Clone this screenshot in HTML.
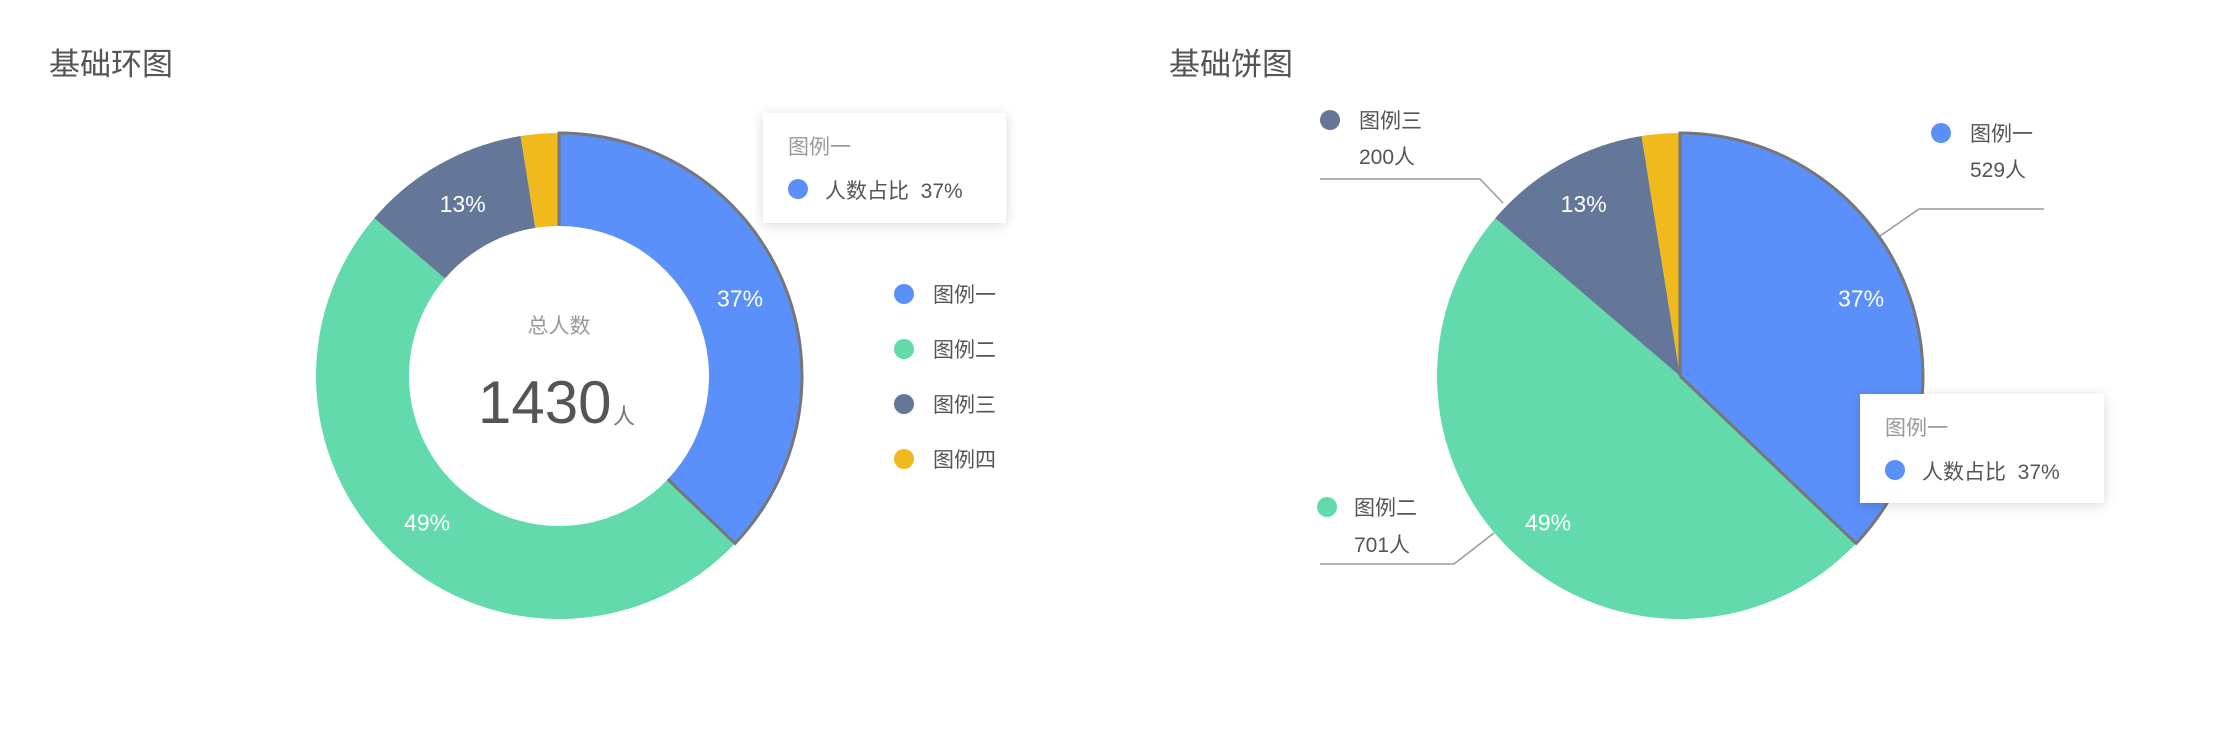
<!DOCTYPE html>
<html><head><meta charset="utf-8">
<style>
body{margin:0;width:2240px;height:752px;background:#fff;overflow:hidden;font-family:"Liberation Sans","Noto Sans CJK SC",sans-serif;}
svg{position:absolute;left:0;top:0}
.tip{position:absolute;background:#fff;box-shadow:0 2px 12px rgba(0,0,0,0.15);font-size:21px;color:#555}
</style></head>
<body>
<svg width="2240" height="752" id="chart"></svg>
<div class="tip" style="left:763px;top:113px;width:243px;height:110px">
  <div style="position:absolute;left:25px;top:18px;color:#999">图例一</div>
  <div style="position:absolute;left:25px;top:66px;width:20px;height:20px;border-radius:50%;background:#5B8FF9"></div>
  <div style="position:absolute;left:62px;top:62px">人数占比&nbsp; 37%</div>
</div>
<div class="tip" style="left:1860px;top:394px;width:244px;height:109px">
  <div style="position:absolute;left:25px;top:18px;color:#999">图例一</div>
  <div style="position:absolute;left:25px;top:66px;width:20px;height:20px;border-radius:50%;background:#5B8FF9"></div>
  <div style="position:absolute;left:62px;top:62px">人数占比&nbsp; 37%</div>
</div>
<script>
const categories=["图例一","图例二","图例三","图例四"];
const values=[529,701,160,36];
const pctLabels=["37%","49%","13%",""];
const countLabels=["529人","701人","200人",""];
const totalLabel="1430";
const colors=["#5B8FF9","#62DAAB","#657798","#F0B91C"];
const NS="http://www.w3.org/2000/svg";
const svg=document.getElementById('chart');
function el(tag,attrs,parent){const e=document.createElementNS(NS,tag);for(const k in attrs)e.setAttribute(k,attrs[k]);(parent||svg).appendChild(e);return e;}
function txt(x,y,s,attrs){const t=el('text',Object.assign({x:x,y:y},attrs));t.textContent=s;return t;}
const total=values.reduce((a,b)=>a+b,0);
function angleOf(v){return v/total*Math.PI*2;}
function pt(cx,cy,r,a){return [cx+r*Math.sin(a),cy-r*Math.cos(a)];}
function arcPath(cx,cy,R,r,a0,a1){
  const large=(a1-a0)>Math.PI?1:0;
  const p0=pt(cx,cy,R,a0),p1=pt(cx,cy,R,a1);
  if(r>0){const q1=pt(cx,cy,r,a1),q0=pt(cx,cy,r,a0);
    return `M${p0}A${R},${R} 0 ${large} 1 ${p1}L${q1}A${r},${r} 0 ${large} 0 ${q0}Z`;}
  return `M${cx},${cy}L${p0}A${R},${R} 0 ${large} 1 ${p1}Z`;
}
function outlinePath(cx,cy,R,r,a0,a1){
  const large=(a1-a0)>Math.PI?1:0;
  const s=pt(cx,cy,r,a0),p0=pt(cx,cy,R,a0),p1=pt(cx,cy,R,a1),e=pt(cx,cy,r,a1);
  return `M${s}L${p0}A${R},${R} 0 ${large} 1 ${p1}L${e}`;
}
function drawPie(cx,cy,R,r,name){
  let a=0;const g=el('g',{});
  
  
  const mids=[];
  values.forEach((v,i)=>{
    const a1=a+angleOf(v);
    const p=el('path',{d:arcPath(cx,cy,R,r,a,a1),fill:colors[i]},g);
    
    
    mids.push((a+a1)/2);a=a1;
  });
  const h=el('path',{d:outlinePath(cx,cy,R,r,0,angleOf(values[0])),fill:'none',stroke:'#777',"stroke-width":3},g);
  
  
  mids.forEach((m,i)=>{
    if(!pctLabels[i])return;
    const p=pt(cx,cy,197,m);
    const t=txt(p[0],p[1]+8,pctLabels[i],{fill:'#fff','font-size':23,'text-anchor':'middle'});
    
    
  });
  return mids;
}
let t=txt(49,75,"基础环图",{fill:'#555','font-size':31});


t=txt(1169,75,"基础饼图",{fill:'#555','font-size':31});


drawPie(559,376,243,150,'donut-chart');
t=txt(559,333,"总人数",{fill:'#999','font-size':21,'text-anchor':'middle'});


t=txt(478,423,totalLabel,{fill:'#555','font-size':60});


t=txt(613,424,"人",{fill:'#777','font-size':22});


categories.forEach((c,i)=>{
  const y=294+i*55;
  const d=el('circle',{cx:904,cy:y,r:10,fill:colors[i]});
  
  
  const l=txt(933,y+8,c,{fill:'#555','font-size':21});
  
  
});
drawPie(1680,376,243,0,'pie-chart');
const callouts=[
 {i:0,line:"1880,236 1919,209 2044,209",dot:[1941,133],tx:1970,ty:141,cy:177},
 {i:2,line:"1503,203 1480,179 1320,179",dot:[1330,120],tx:1359,ty:128,cy:164},
 {i:1,line:"1494,533 1454,564 1320,564",dot:[1327,507],tx:1354,ty:515,cy:552}
];
callouts.forEach(c=>{
  const p=el('polyline',{points:c.line,fill:'none',stroke:'#999','stroke-width':1.5});
  
  
  const d=el('circle',{cx:c.dot[0],cy:c.dot[1],r:10,fill:colors[c.i]});
  
  
  const a=txt(c.tx,c.ty,categories[c.i],{fill:'#555','font-size':21});
  
  
  const b=txt(c.tx,c.cy,countLabels[c.i],{fill:'#555','font-size':21});
  
  
});
</script>
</body></html>
